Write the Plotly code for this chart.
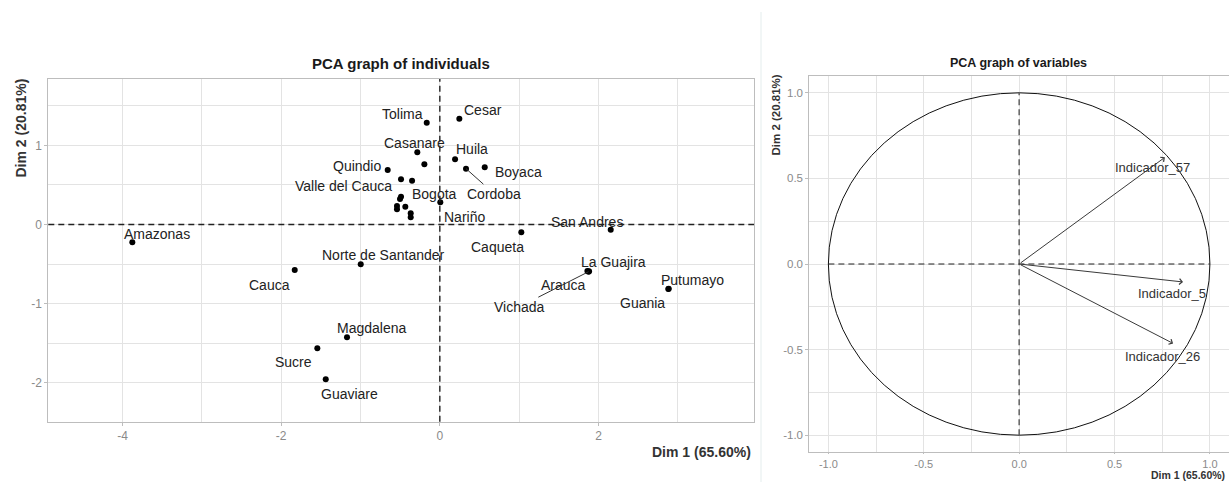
import plotly.graph_objects as go

# Individuals (departments) on the first two principal dimensions
ind_labels = ["Amazonas", "Tolima", "Cesar", "Casanare", "", "Huila", "Cordoba", "Boyaca",
              "Quindio", "Valle del Cauca", "", "Bogota", "", "", "", "", "", "",
              "Nariño", "Norte de Santander", "Cauca", "Magdalena", "Sucre", "Guaviare",
              "Caqueta", "San Andres", "La Guajira", "Arauca", "Vichada", "Putumayo", "Guania"]
ind_dim1 = [-3.876, -0.165, 0.246, -0.284, -0.195, 0.192, 0.330, 0.566,
            -0.657, -0.489, -0.350, -0.489, -0.502, -0.540, -0.540, -0.435, -0.367, -0.367,
            0.006, -0.997, -1.829, -1.170, -1.544, -1.438,
            1.027, 2.154, 1.881, 1.860, 1.875, 2.885, 2.880]
ind_dim2 = [-0.223, 1.287, 1.337, 0.913, 0.761, 0.824, 0.706, 0.723,
            0.689, 0.572, 0.554, 0.352, 0.323, 0.235, 0.193, 0.226, 0.143, 0.092,
            0.282, -0.501, -0.573, -1.423, -1.562, -1.953,
            -0.097, -0.064, -0.590, -0.585, -0.595, -0.809, -0.815]

# Variables (correlation circle coordinates)
var_names = ["Indicador_57", "Indicador_5", "Indicador_26"]
var_dim1 = [0.764, 0.859, 0.807]
var_dim2 = [0.623, -0.105, -0.464]

# Tick values and their printed labels (plain hyphen minus)
ind_xticks = [-4, -2, 0, 2]
ind_xticktext = ["-4", "-2", "0", "2"]
ind_yticks = [-2, -1, 0, 1]
ind_yticktext = ["-2", "-1", "0", "1"]
var_ticks = [-1.0, -0.5, 0.0, 0.5, 1.0]
var_ticktext = ["-1.0", "-0.5", "0.0", "0.5", "1.0"]

dim1_title = "Dim 1 (65.60%)"
dim2_title = "Dim 2 (20.81%)"

# Repelled label placement (pixels: right, down) and labels joined by a segment
label_offset = {
    "Amazonas": (25, -8), "Tolima": (-24, -9), "Cesar": (24, -9), "Casanare": (-3, -9),
    "Huila": (17, -10), "Cordoba": (28, 25), "Boyaca": (34, 5), "Quindio": (-31, -4),
    "Valle del Cauca": (-58, 7), "Bogota": (33, -3), "Nariño": (24, 15),
    "Norte de Santander": (23, -9), "Cauca": (-25, 15), "Magdalena": (24, -9),
    "Sucre": (-24, 14), "Guaviare": (24, 15), "Caqueta": (-24, 15), "San Andres": (-24, -8),
    "La Guajira": (24, -9), "Arauca": (-24, 14), "Vichada": (-69, 35),
    "Putumayo": (24, -9), "Guania": (-26, 14),
}
with_segment = {"Cordoba", "Vichada"}
var_label_offset = {"Indicador_57": (-12, 10), "Indicador_5": (-11, 12), "Indicador_26": (-11, 13)}

W, H = 1229, 482
FONT = "Liberation Sans, Arial, sans-serif"
GRID = "#e3e3e3"
BORDER = "#bdbdbd"
TICKFONT = dict(family=FONT, size=12, color="#8a8a8a")


def px_x(p):
    return p / W


def px_y(p):
    return 1 - p / H


fig = go.Figure()

fig.add_trace(go.Scatter(
    x=ind_dim1, y=ind_dim2, mode="markers",
    marker=dict(color="black", size=6),
    xaxis="x", yaxis="y", hoverinfo="skip", showlegend=False,
))

annotations = []
for name, x, y in zip(ind_labels, ind_dim1, ind_dim2):
    if not name:
        continue
    dx, dy = label_offset[name]
    if name in with_segment:
        annotations.append(dict(
            x=x, y=y, xref="x", yref="y", text=name, showarrow=True,
            ax=dx, ay=dy, arrowhead=0, arrowwidth=1, arrowcolor="#333333", standoff=0,
            font=dict(family=FONT, size=14, color="#222222"),
        ))
    else:
        annotations.append(dict(
            x=x, y=y, xref="x", yref="y", text=name, showarrow=False,
            xshift=dx, yshift=-dy, xanchor="center", yanchor="middle",
            font=dict(family=FONT, size=14, color="#222222"),
        ))

# Variable arrows from the origin
for name, x, y in zip(var_names, var_dim1, var_dim2):
    annotations.append(dict(
        x=x, y=y, xref="x2", yref="y2", ax=0, ay=0, axref="x2", ayref="y2",
        text="", showarrow=True, arrowhead=4, arrowsize=1.1, arrowwidth=1,
        arrowcolor="#3a3a3a", standoff=0,
    ))
    dx, dy = var_label_offset[name]
    annotations.append(dict(
        x=x, y=y, xref="x2", yref="y2", text=name, showarrow=False,
        xshift=dx, yshift=-dy, xanchor="center", yanchor="middle",
        font=dict(family=FONT, size=13, color="#333333"),
    ))

# Titles and axis titles
annotations += [
    dict(text="<b>PCA graph of individuals</b>", x=px_x(401), y=px_y(64), xref="paper", yref="paper",
         showarrow=False, xanchor="center", yanchor="middle",
         font=dict(family=FONT, size=15, color="#1a1a1a")),
    dict(text=f"<b>{dim1_title}</b>", x=px_x(753), y=px_y(452), xref="paper", yref="paper",
         showarrow=False, xanchor="right", yanchor="middle",
         font=dict(family=FONT, size=14, color="#333333")),
    dict(text=f"<b>{dim2_title}</b>", x=px_x(20), y=px_y(77), xref="paper", yref="paper",
         showarrow=False, xanchor="center", yanchor="top", textangle=-90,
         font=dict(family=FONT, size=14, color="#333333")),
    dict(text="<b>PCA graph of variables</b>", x=px_x(1018), y=px_y(63), xref="paper", yref="paper",
         showarrow=False, xanchor="center", yanchor="middle",
         font=dict(family=FONT, size=12.5, color="#1a1a1a")),
    dict(text=f"<b>{dim1_title}</b>", x=px_x(1227), y=px_y(483), xref="paper", yref="paper",
         showarrow=False, xanchor="right", yanchor="bottom",
         font=dict(family=FONT, size=10.5, color="#333333")),
    dict(text=f"<b>{dim2_title}</b>", x=px_x(775), y=px_y(73), xref="paper", yref="paper",
         showarrow=False, xanchor="center", yanchor="top", textangle=-90,
         font=dict(family=FONT, size=11.5, color="#333333")),
]

dash = "6px,4px"
shapes = [
    # reference lines, individuals map
    dict(type="line", xref="x", yref="y domain", x0=0, x1=0, y0=0, y1=1,
         line=dict(color="#222222", width=1.4, dash=dash)),
    dict(type="line", xref="x domain", yref="y", x0=0, x1=1, y0=0, y1=0,
         line=dict(color="#222222", width=1.4, dash=dash)),
    # correlation circle and its axes
    dict(type="circle", xref="x2", yref="y2", x0=-1, x1=1, y0=-1, y1=1,
         line=dict(color="#111111", width=1)),
    dict(type="line", xref="x2", yref="y2", x0=0, x1=0, y0=-1, y1=1,
         line=dict(color="#555555", width=1.4, dash=dash)),
    dict(type="line", xref="x2", yref="y2", x0=-1, x1=1, y0=0, y1=0,
         line=dict(color="#222222", width=1.2, dash=dash)),
    # separator between the two panels
    dict(type="line", xref="paper", yref="paper", x0=px_x(761), x1=px_x(761), y0=0, y1=px_y(12),
         line=dict(color="#e4eded", width=1)),
]


def axis(domain, rng, tickvals, ticktext, minor, tickfont=TICKFONT, ticklen=3):
    return dict(
        domain=domain, range=rng, showgrid=True, gridcolor=GRID, gridwidth=1,
        zeroline=False, showline=True, mirror=True, linecolor=BORDER, linewidth=1,
        ticks="outside", ticklen=ticklen, tickcolor=BORDER, tickfont=tickfont,
        tickmode="array", tickvals=tickvals, ticktext=ticktext,
        minor=dict(tick0=0, dtick=minor, showgrid=True, gridcolor=GRID, ticklen=0),
        fixedrange=True,
    )


small_ticks = dict(family=FONT, size=11.5, color="#8a8a8a")
bottom_ticks = dict(family=FONT, size=11, color="#8a8a8a")

fig.update_layout(
    width=W, height=H, margin=dict(l=0, r=0, t=0, b=0),
    paper_bgcolor="white", plot_bgcolor="white",
    showlegend=False,
    xaxis=axis([px_x(48.3), px_x(754)], [-4.935, 3.96], ind_xticks, ind_xticktext, 1),
    yaxis=axis([px_y(421.7), px_y(79)], [-2.489, 1.838], ind_yticks, ind_yticktext, 0.5),
    xaxis2=axis([px_x(809.3), 1.0], [-1.1, 1.1], var_ticks, var_ticktext, 0.25, bottom_ticks, 1),
    yaxis2=axis([px_y(452.3), px_y(75.7)], [-1.1, 1.1], var_ticks, var_ticktext, 0.25, small_ticks),
    annotations=annotations,
    shapes=shapes,
)
fig.layout.xaxis2.anchor = "y2"
fig.layout.yaxis2.anchor = "x2"

# invisible trace so the second pair of axes is drawn
fig.add_trace(go.Scatter(x=[None], y=[None], xaxis="x2", yaxis="y2", showlegend=False))

fig.write_html("out.html")
